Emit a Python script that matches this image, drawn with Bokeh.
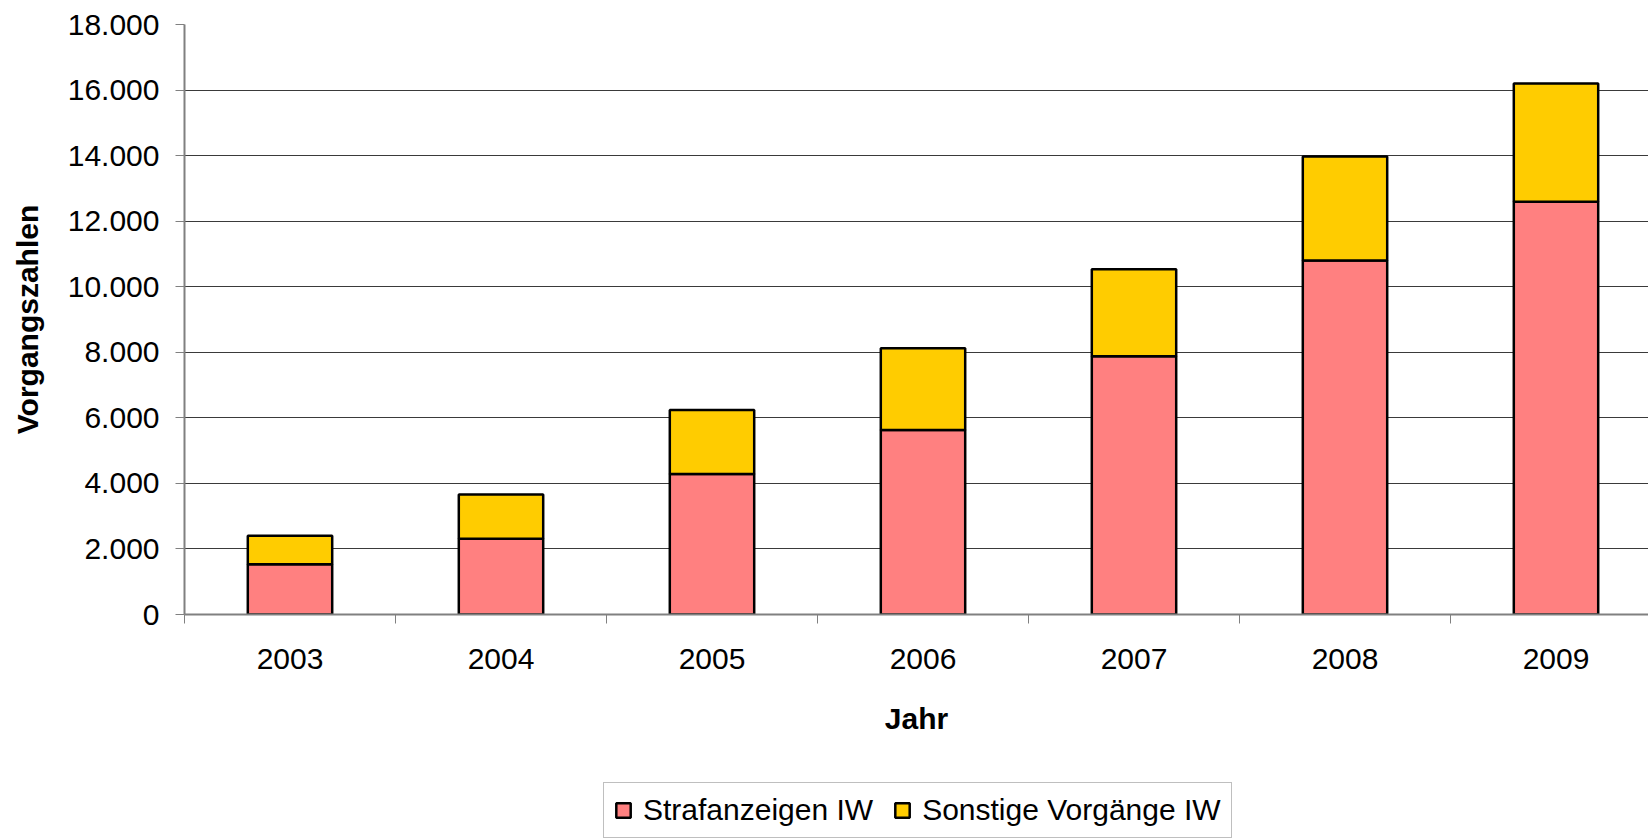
from bokeh.plotting import figure
from bokeh.layouts import column
from bokeh.models import FixedTicker, Legend, LegendItem, Range1d, ColumnDataSource
from bokeh.embed import file_html
from bokeh.resources import INLINE

# ---- data ----
years = [2003, 2004, 2005, 2006, 2007, 2008, 2009]
strafanzeigen = [1530, 2310, 4290, 5630, 7880, 10800, 12590]
sonstige = [870, 1350, 1950, 2490, 2650, 3170, 3610]
series_names = ["Strafanzeigen IW", "Sonstige Vorgänge IW"]
y_ticks = [0, 2000, 4000, 6000, 8000, 10000, 12000, 14000, 16000, 18000]
y_tick_labels = ["0", "2.000", "4.000", "6.000", "8.000", "10.000",
                 "12.000", "14.000", "16.000", "18.000"]
x_title = "Jahr"
y_title = "Vorgangszahlen"

colors = ["#FF8080", "#FFCC00"]
FONT = "Liberation Sans"

src = ColumnDataSource(dict(year=years, straf=strafanzeigen, sonst=sonstige))

W = 1648
frame_w = W - 184
cat_w = 211.0
p = figure(width=W, height=775, output_backend="svg", toolbar_location=None,
           x_range=Range1d(years[0] - 0.5, years[0] - 0.5 + frame_w / cat_w),
           y_range=Range1d(y_ticks[0], y_ticks[-1]),
           min_border_left=184, min_border_top=24, min_border_right=0,
           min_border_bottom=161)
p.outline_line_color = None
p.background_fill_color = "white"
p.border_fill_color = "white"

renderers = p.vbar_stack(["straf", "sonst"], x="year", width=0.4, source=src,
                         fill_color=colors, line_color="black", line_width=2.5)

# grid
p.xgrid.visible = False
p.ygrid.ticker = FixedTicker(ticks=y_ticks)
p.ygrid.grid_line_color = "#3a3a3a"
p.ygrid.grid_line_width = 1

# y axis
ya = p.yaxis[0]
ya.ticker = FixedTicker(ticks=y_ticks)
ya.major_label_overrides = {t: l for t, l in zip(y_ticks, y_tick_labels)}
ya.axis_line_color = "#808080"
ya.axis_line_width = 2
ya.major_tick_line_color = "#808080"
ya.major_tick_out = 9
ya.major_tick_in = 0
ya.minor_tick_line_color = None
ya.major_label_standoff = 16
ya.major_label_text_font = FONT
ya.major_label_text_font_size = "30px"
ya.major_label_text_color = "black"
ya.axis_label = y_title
ya.axis_label_text_font = FONT
ya.axis_label_text_font_size = "30px"
ya.axis_label_text_font_style = "bold"
ya.axis_label_text_color = "black"
ya.axis_label_standoff = 21

# x axis: labels at category centres, ticks at category boundaries
xa = p.xaxis[0]
xa.ticker = FixedTicker(ticks=years, minor_ticks=[y - 0.5 for y in years] + [years[-1] + 0.5])
xa.axis_line_color = "#808080"
xa.axis_line_width = 2
xa.major_tick_line_color = None
xa.major_tick_out = 0
xa.major_tick_in = 0
xa.minor_tick_line_color = "#808080"
xa.minor_tick_out = 9
xa.minor_tick_in = 0
xa.major_label_standoff = 25
xa.major_label_text_font = FONT
xa.major_label_text_font_size = "30px"
xa.major_label_text_color = "black"
xa.axis_label = x_title
xa.axis_label_text_font = FONT
xa.axis_label_text_font_size = "30px"
xa.axis_label_text_font_style = "bold"
xa.axis_label_text_color = "black"
xa.axis_label_standoff = 30

# ---- legend strip below the chart (frames are aligned by the column) ----
lg = figure(width=W, height=63, output_backend="svg", toolbar_location=None,
            x_range=p.x_range, y_range=Range1d(0, 1),
            x_axis_location=None, y_axis_location=None, min_border=0)
lg.outline_line_color = None
lg.grid.visible = False
lg.background_fill_color = "white"
lg.border_fill_color = "white"
# hidden legend proxies (same data and styling); only their legend swatches are drawn
proxies = lg.vbar_stack(["straf", "sonst"], x="year", width=0.4, source=src,
                        fill_color=colors, line_color="black", line_width=2.5)
for r in proxies:
    r.visible = False

legend = Legend(
    items=[LegendItem(label=series_names[i], renderers=[proxies[i]]) for i in range(2)],
    location=(419, 0), orientation="horizontal",
    glyph_width=18, glyph_height=18, label_standoff=11, spacing=20,
    padding=10, margin=0,
    label_text_font=FONT, label_text_font_size="30px", label_text_color="black",
    border_line_color="#808080", border_line_width=1,
    background_fill_color="white", background_fill_alpha=1.0,
)
lg.add_layout(legend)

open("out.html", "w").write(file_html(column(p, lg, spacing=0), INLINE))
